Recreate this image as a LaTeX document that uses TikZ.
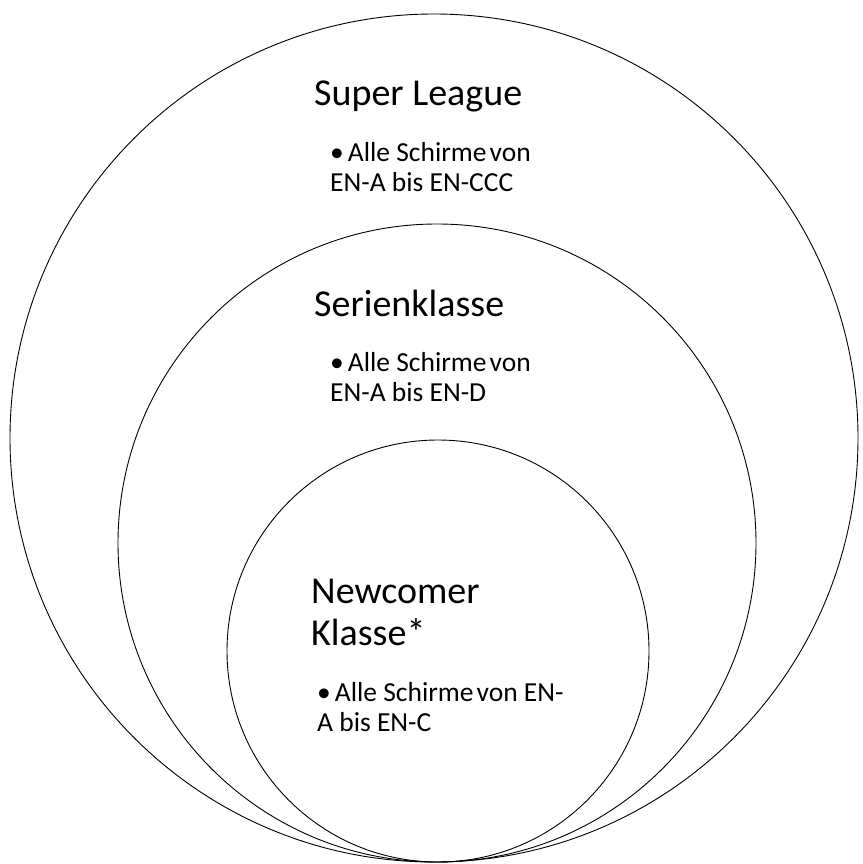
\documentclass[tikz,border=0pt]{standalone}
\usepackage{fontspec}
\setmainfont{Carlito}
\usetikzlibrary{positioning}
\tikzset{%
  ring/.style={draw, circle, line width=0.9pt, inner sep=0pt},% league circle
  heading/.style={anchor=base west, inner sep=0pt, align=left,
    font=\fontsize{38}{42}\selectfont},% class name
  bullets/.style={anchor=base west, inner sep=0pt, align=left,
    font=\fontsize{27.5}{30}\selectfont}% bullet text, anchored at last line
}
\newcommand*{\bul}{•\kern4pt}

\begin{document}
\begin{tikzpicture}[x=1pt, y=-1pt]
\useasboundingbox (0,0) rectangle (862,864);

\node[ring, minimum size=848] (super) at (434, 438) {};
\node[ring, minimum size=638] (serie) at (437, 543) {};
\node[ring, minimum size=422] (newcomer) at (438, 651) {};

\node[heading] (t1) at (314, 106) {Super League};
\node[bullets] (b1) at (330, 191) {\bul Alle Schirme\kern3pt von\\EN-A bis EN-CCC};

\node[heading] (t2) at (314, 316) {Serienklasse};
\node[bullets] (b2) at (330, 401) {\bul Alle Schirme\kern3pt von\\EN-A bis EN-D};

\node[heading] (t3) at (311, 645) {Newcomer\\Klasse*};
\node[bullets] (b3) at (317, 731) {\bul Alle Schirme\kern3pt von EN-\\A bis EN-C};
\end{tikzpicture}
\end{document}
